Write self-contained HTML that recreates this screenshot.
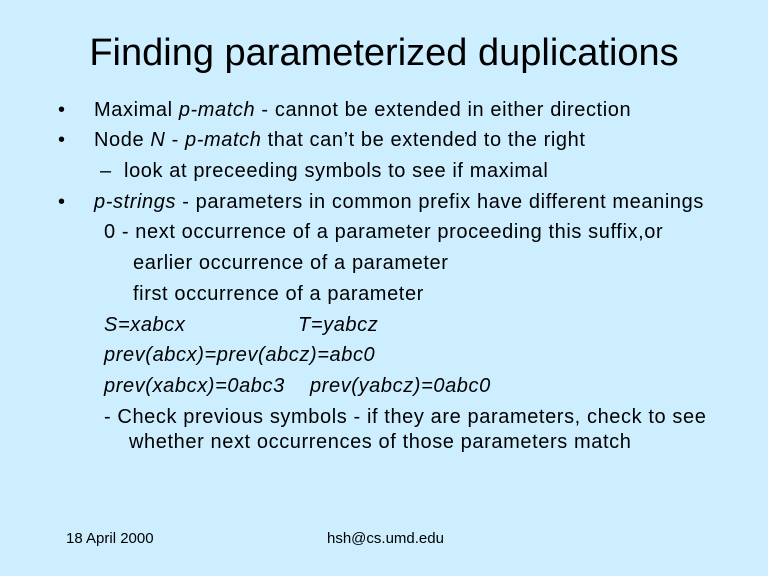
<!DOCTYPE html>
<html><head><meta charset="utf-8"><style>
body{margin:0;width:768px;height:576px;background:#cdeeff;position:relative;overflow:hidden;font-family:"Liberation Sans",sans-serif;color:#000}
div{position:absolute;white-space:nowrap;font-size:20px;line-height:22px;letter-spacing:0.6px}
.t{left:0;width:768px;text-align:center;font-size:38px;line-height:42px;top:32px;letter-spacing:0}
.f{font-size:15px;line-height:16px;letter-spacing:0}
</style></head><body>
<div class="t">Finding parameterized duplications</div>
<div style="left:58px;top:99px">•</div>
<div style="left:94px;top:99px">Maximal <i>p-match</i> - cannot be extended in either direction</div>
<div style="left:58px;top:129px">•</div>
<div style="left:94px;top:129px">Node <i>N</i> - <i>p-match</i> that can’t be extended to the right</div>
<div style="left:100px;top:160px">–&nbsp; look at preceeding symbols to see if maximal</div>
<div style="left:58px;top:191px">•</div>
<div style="left:94px;top:191px"><i>p-strings</i> - parameters in common prefix have different meanings</div>
<div style="left:104px;top:221px">0 - next occurrence of a parameter proceeding this suffix,or</div>
<div style="left:133px;top:252px">earlier occurrence of a parameter</div>
<div style="left:133px;top:283px">first occurrence of a parameter</div>
<div style="left:104px;top:314px"><i>S=xabcx</i></div>
<div style="left:298px;top:314px"><i>T=yabcz</i></div>
<div style="left:104px;top:344px"><i>prev(abcx)=prev(abcz)=abc0</i></div>
<div style="left:104px;top:375px"><i>prev(xabcx)=0abc3</i></div>
<div style="left:310px;top:375px"><i>prev(yabcz)=0abc0</i></div>
<div style="left:104px;top:406px">- Check previous symbols - if they are parameters, check to see</div>
<div style="left:129px;top:431px">whether next occurrences of those parameters match</div>
<div class="f" style="left:66px;top:531px">18 April 2000</div>
<div class="f" style="left:327px;top:531px">hsh@cs.umd.edu</div>
</body></html>
